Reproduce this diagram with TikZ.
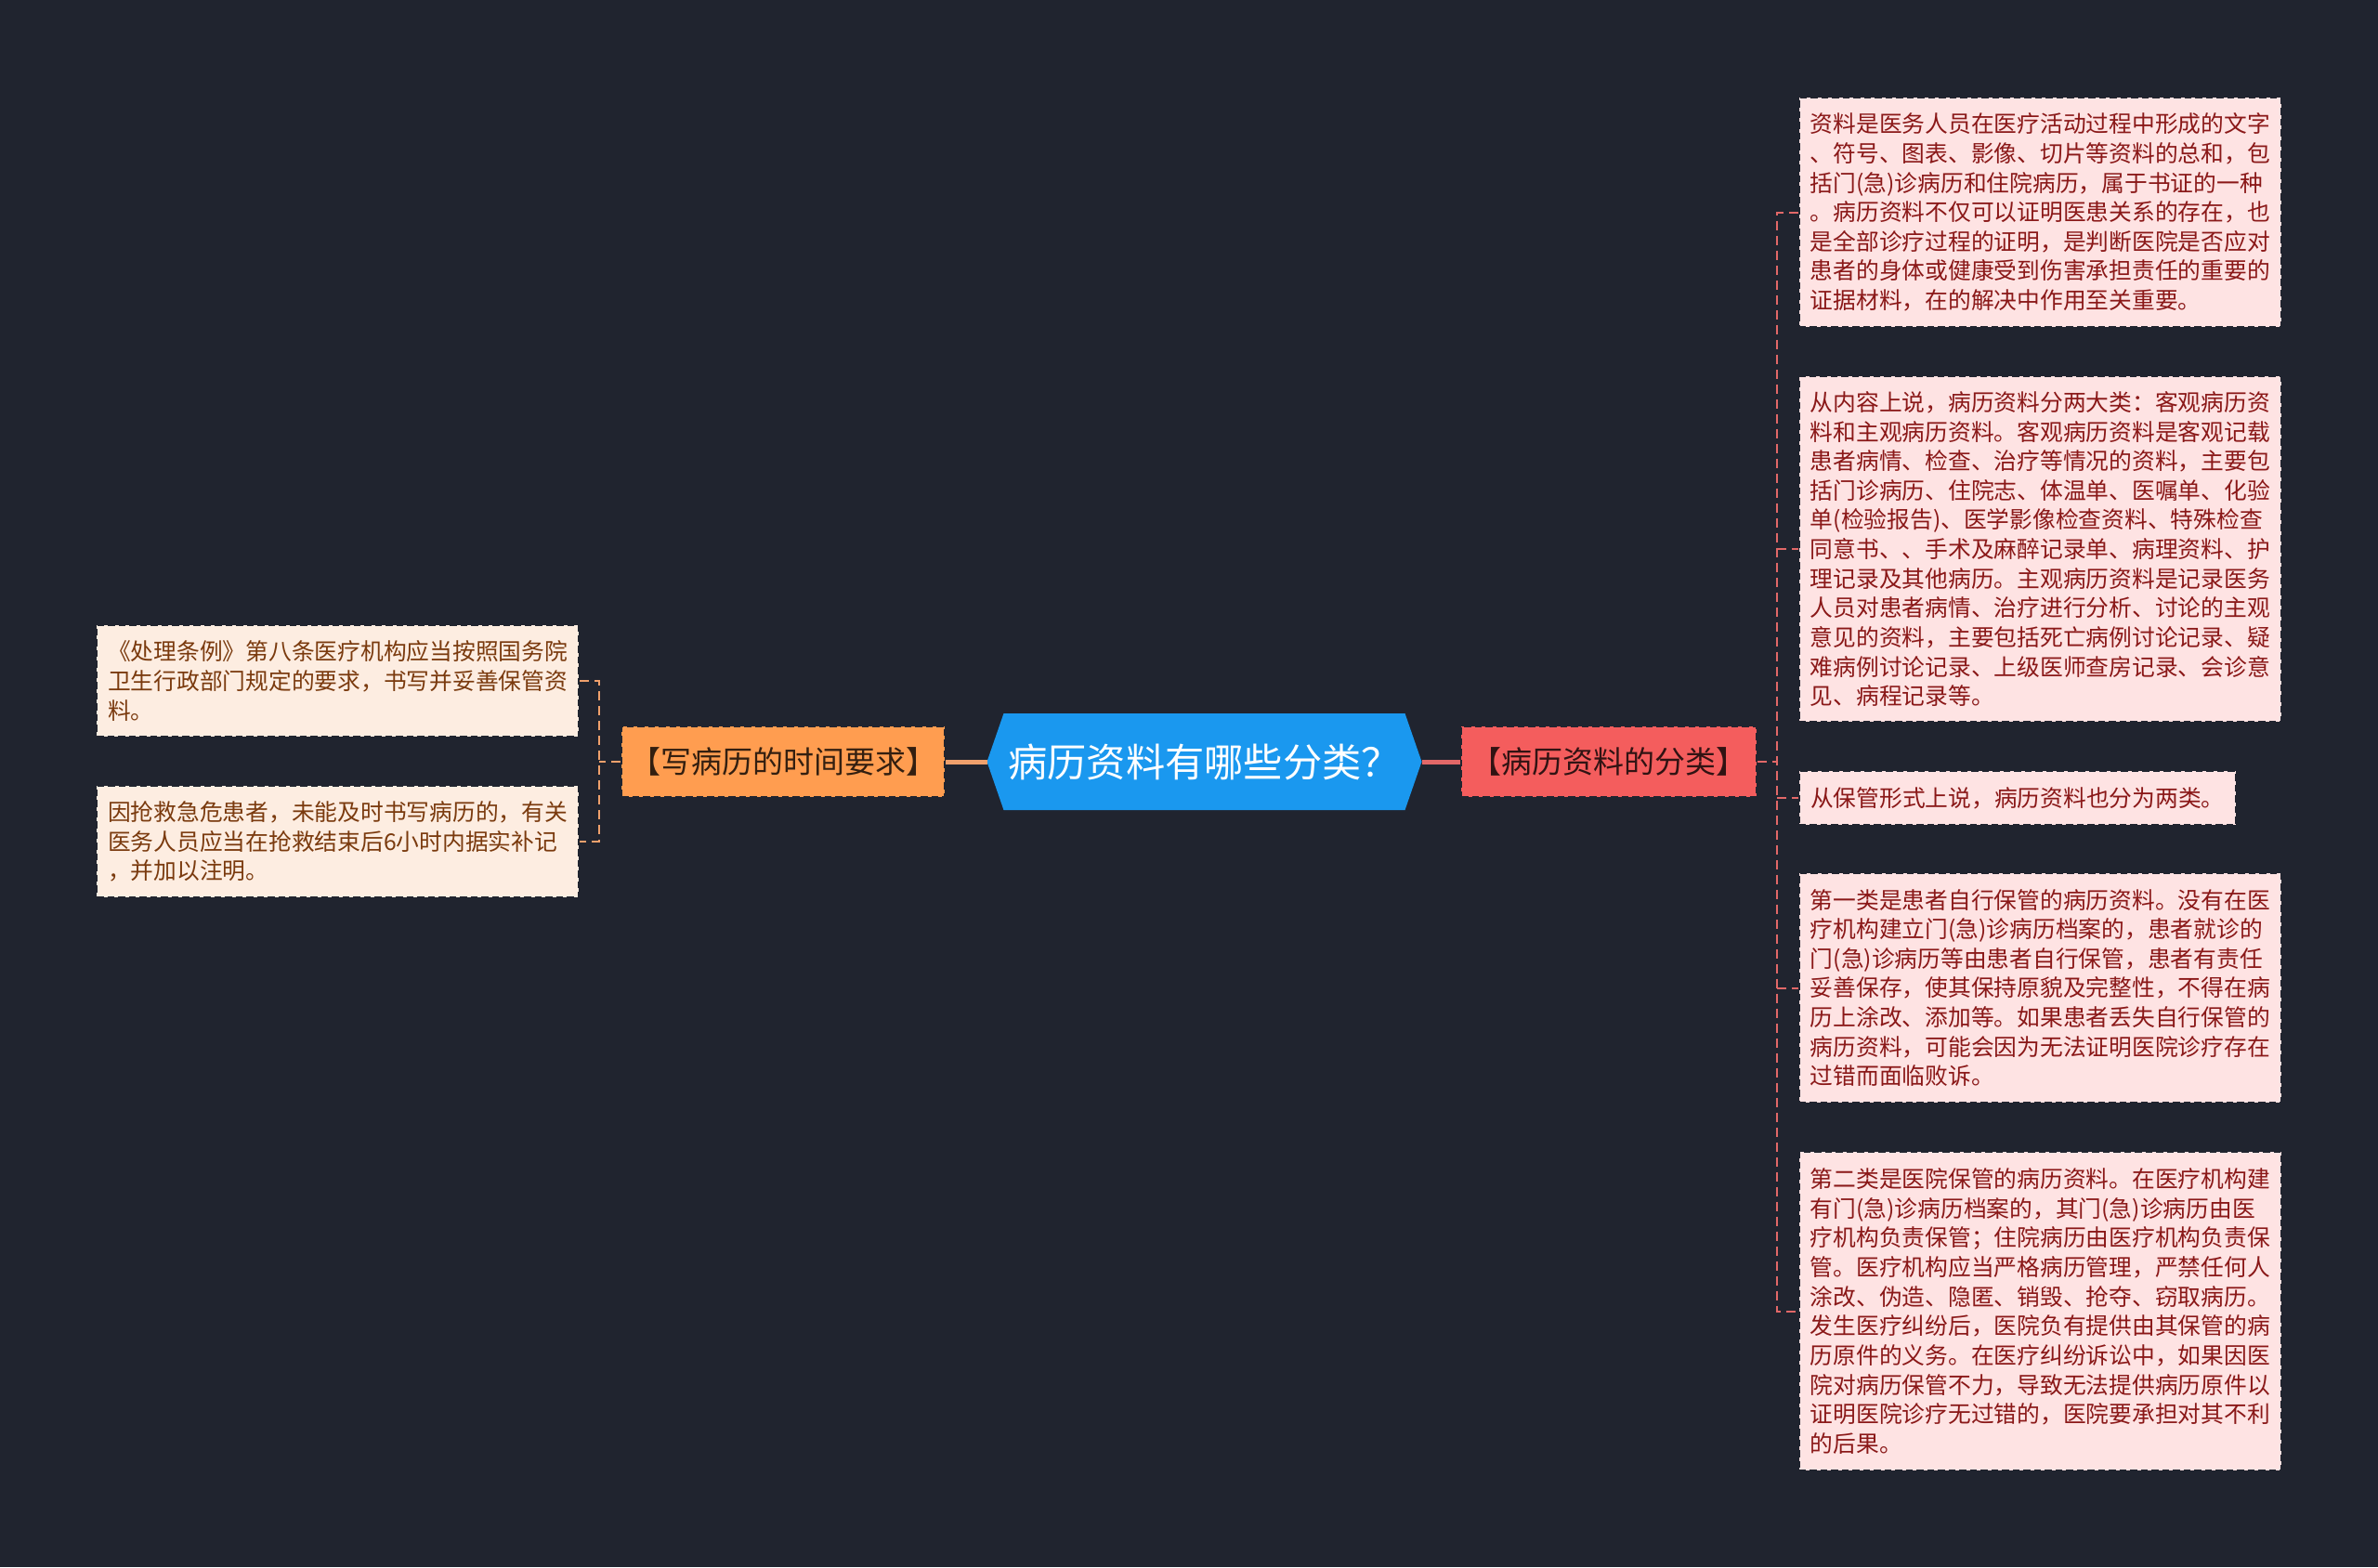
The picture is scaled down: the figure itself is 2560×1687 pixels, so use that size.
\documentclass[tikz,border=0pt]{standalone}
\usepackage{fontspec}
\setmainfont{Noto Sans CJK SC}
\usetikzlibrary{backgrounds}
\definecolor{bg}{HTML}{20242F}
\definecolor{cblue}{HTML}{1A98EF}
\definecolor{lorange}{HTML}{FF9D50}
\definecolor{rred}{HTML}{F45D5D}
\definecolor{lfill}{HTML}{FDEDE1}
\definecolor{rfill}{HTML}{FEE3E3}
\definecolor{ltext}{HTML}{7A3A0E}
\definecolor{rtext}{HTML}{8A1818}
\definecolor{lline}{HTML}{EFA06C}
\definecolor{rline}{HTML}{E26868}
\tikzset{
  leafbase/.style={draw=bg, dashed, dash pattern=on 3pt off 1.6pt, line width=0.7pt,
    inner xsep=4.8pt, inner ysep=3pt, align=left,
    font={\fontsize{9.9pt}{12.65pt}\selectfont}},
  lleaf/.style={leafbase, fill=lfill, text=ltext, anchor=east, minimum width=207.6pt},
  rleaf/.style={leafbase, fill=rfill, text=rtext, anchor=west, minimum width=207.6pt},
  branchbox/.style={draw=bg, dashed, dash pattern=on 3pt off 1.6pt, line width=0.7pt,
    minimum height=30.4pt, inner sep=0pt, font={\fontsize{13.2pt}{15pt}\selectfont}},
  mainline/.style={line width=2pt},
  subline/.style={line width=0.8pt, dash pattern=on 4pt off 2.4pt},
}
\begin{document}
\begin{tikzpicture}[x=0.4pt,y=-0.4pt]
\begin{scope}[on background layer]
\fill[bg] (0,0) rectangle (2560,1687);
\end{scope}
\useasboundingbox (0,0) rectangle (2560,1687);

% central topic
\node[minimum width=186.8pt, minimum height=41.2pt, inner sep=0pt, text=white,
      font={\fontsize{16.9pt}{19pt}\selectfont}] (c) at (1296.5,820) {病历资料有哪些分类？};
\begin{scope}[on background layer]
\fill[cblue] ([xshift=7.2pt]c.north west) -- ([xshift=-7.2pt]c.north east) -- (c.east)
  -- ([xshift=-7.2pt]c.south east) -- ([xshift=7.2pt]c.south west) -- (c.west) -- cycle;
\end{scope}

% branches
\node[branchbox, fill=lorange, text=black!80!lorange, minimum width=139.2pt] (lb) at (843,820) {【写病历的时间要求】};
\node[branchbox, fill=rred, text=black!80!rred, minimum width=127.2pt] (rb) at (1732,820) {【病历资料的分类】};

% left leaves
\node[lleaf, minimum height=48pt] (l1) at (624,733) {《处理条例》第八条医疗机构应当按照国务院\\卫生行政部门规定的要求，书写并妥善保管资\\料。};
\node[lleaf, minimum height=48pt] (l2) at (624,906) {因抢救急危患者，未能及时书写病历的，有关\\医务人员应当在抢救结束后6小时内据实补记\\，并加以注明。};

% right leaves
\node[rleaf, minimum height=98.8pt] (r1) at (1936,228.5) {资料是医务人员在医疗活动过程中形成的文字\\、符号、图表、影像、切片等资料的总和，包\\括门(急)诊病历和住院病历，属于书证的一种\\。病历资料不仅可以证明医患关系的存在，也\\是全部诊疗过程的证明，是判断医院是否应对\\患者的身体或健康受到伤害承担责任的重要的\\证据材料，在的解决中作用至关重要。};
\node[rleaf, minimum height=148.8pt] (r2) at (1936,591) {从内容上说，病历资料分两大类：客观病历资\\料和主观病历资料。客观病历资料是客观记载\\患者病情、检查、治疗等情况的资料，主要包\\括门诊病历、住院志、体温单、医嘱单、化验\\单(检验报告)、医学影像检查资料、特殊检查\\同意书、、手术及麻醉记录单、病理资料、护\\理记录及其他病历。主观病历资料是记录医务\\人员对患者病情、治疗进行分析、讨论的主观\\意见的资料，主要包括死亡病例讨论记录、疑\\难病例讨论记录、上级医师查房记录、会诊意\\见、病程记录等。};
\node[rleaf, minimum height=23.2pt, minimum width=188pt] (r3) at (1936,859) {从保管形式上说，病历资料也分为两类。};
\node[rleaf, minimum height=98.8pt] (r4) at (1936,1063.5) {第一类是患者自行保管的病历资料。没有在医\\疗机构建立门(急)诊病历档案的，患者就诊的\\门(急)诊病历等由患者自行保管，患者有责任\\妥善保存，使其保持原貌及完整性，不得在病\\历上涂改、添加等。如果患者丢失自行保管的\\病历资料，可能会因为无法证明医院诊疗存在\\过错而面临败诉。};
\node[rleaf, minimum height=137.2pt] (r5) at (1936,1411.5) {第二类是医院保管的病历资料。在医疗机构建\\有门(急)诊病历档案的，其门(急)诊病历由医\\疗机构负责保管；住院病历由医疗机构负责保\\管。医疗机构应当严格病历管理，严禁任何人\\涂改、伪造、隐匿、销毁、抢夺、窃取病历。\\发生医疗纠纷后，医院负有提供由其保管的病\\历原件的义务。在医疗纠纷诉讼中，如果因医\\院对病历保管不力，导致无法提供病历原件以\\证明医院诊疗无过错的，医院要承担对其不利\\的后果。};

% trunk coordinates
\coordinate (lt) at (645,820);
\coordinate (rt) at (1913,820);

% main connectors
\draw[mainline, lline] (c.west) -- (lb.east);
\draw[mainline, rline] (c.east) -- (rb.west);

% left sub connectors
\draw[subline, lline] (lb.west) -- (lt);
\draw[subline, lline] (l1.east) -- (l1.east -| lt) -- (l2.east -| lt) -- (l2.east);

% right sub connectors
\draw[subline, rline] (rb.east) -- (rt);
\draw[subline, rline] (r1.west) -- (r1.west -| rt) -- (r5.west -| rt) -- (r5.west);
\draw[subline, rline] (r2.west -| rt) -- (r2.west);
\draw[subline, rline] (r3.west -| rt) -- (r3.west);
\draw[subline, rline] (r4.west -| rt) -- (r4.west);
\end{tikzpicture}
\end{document}
